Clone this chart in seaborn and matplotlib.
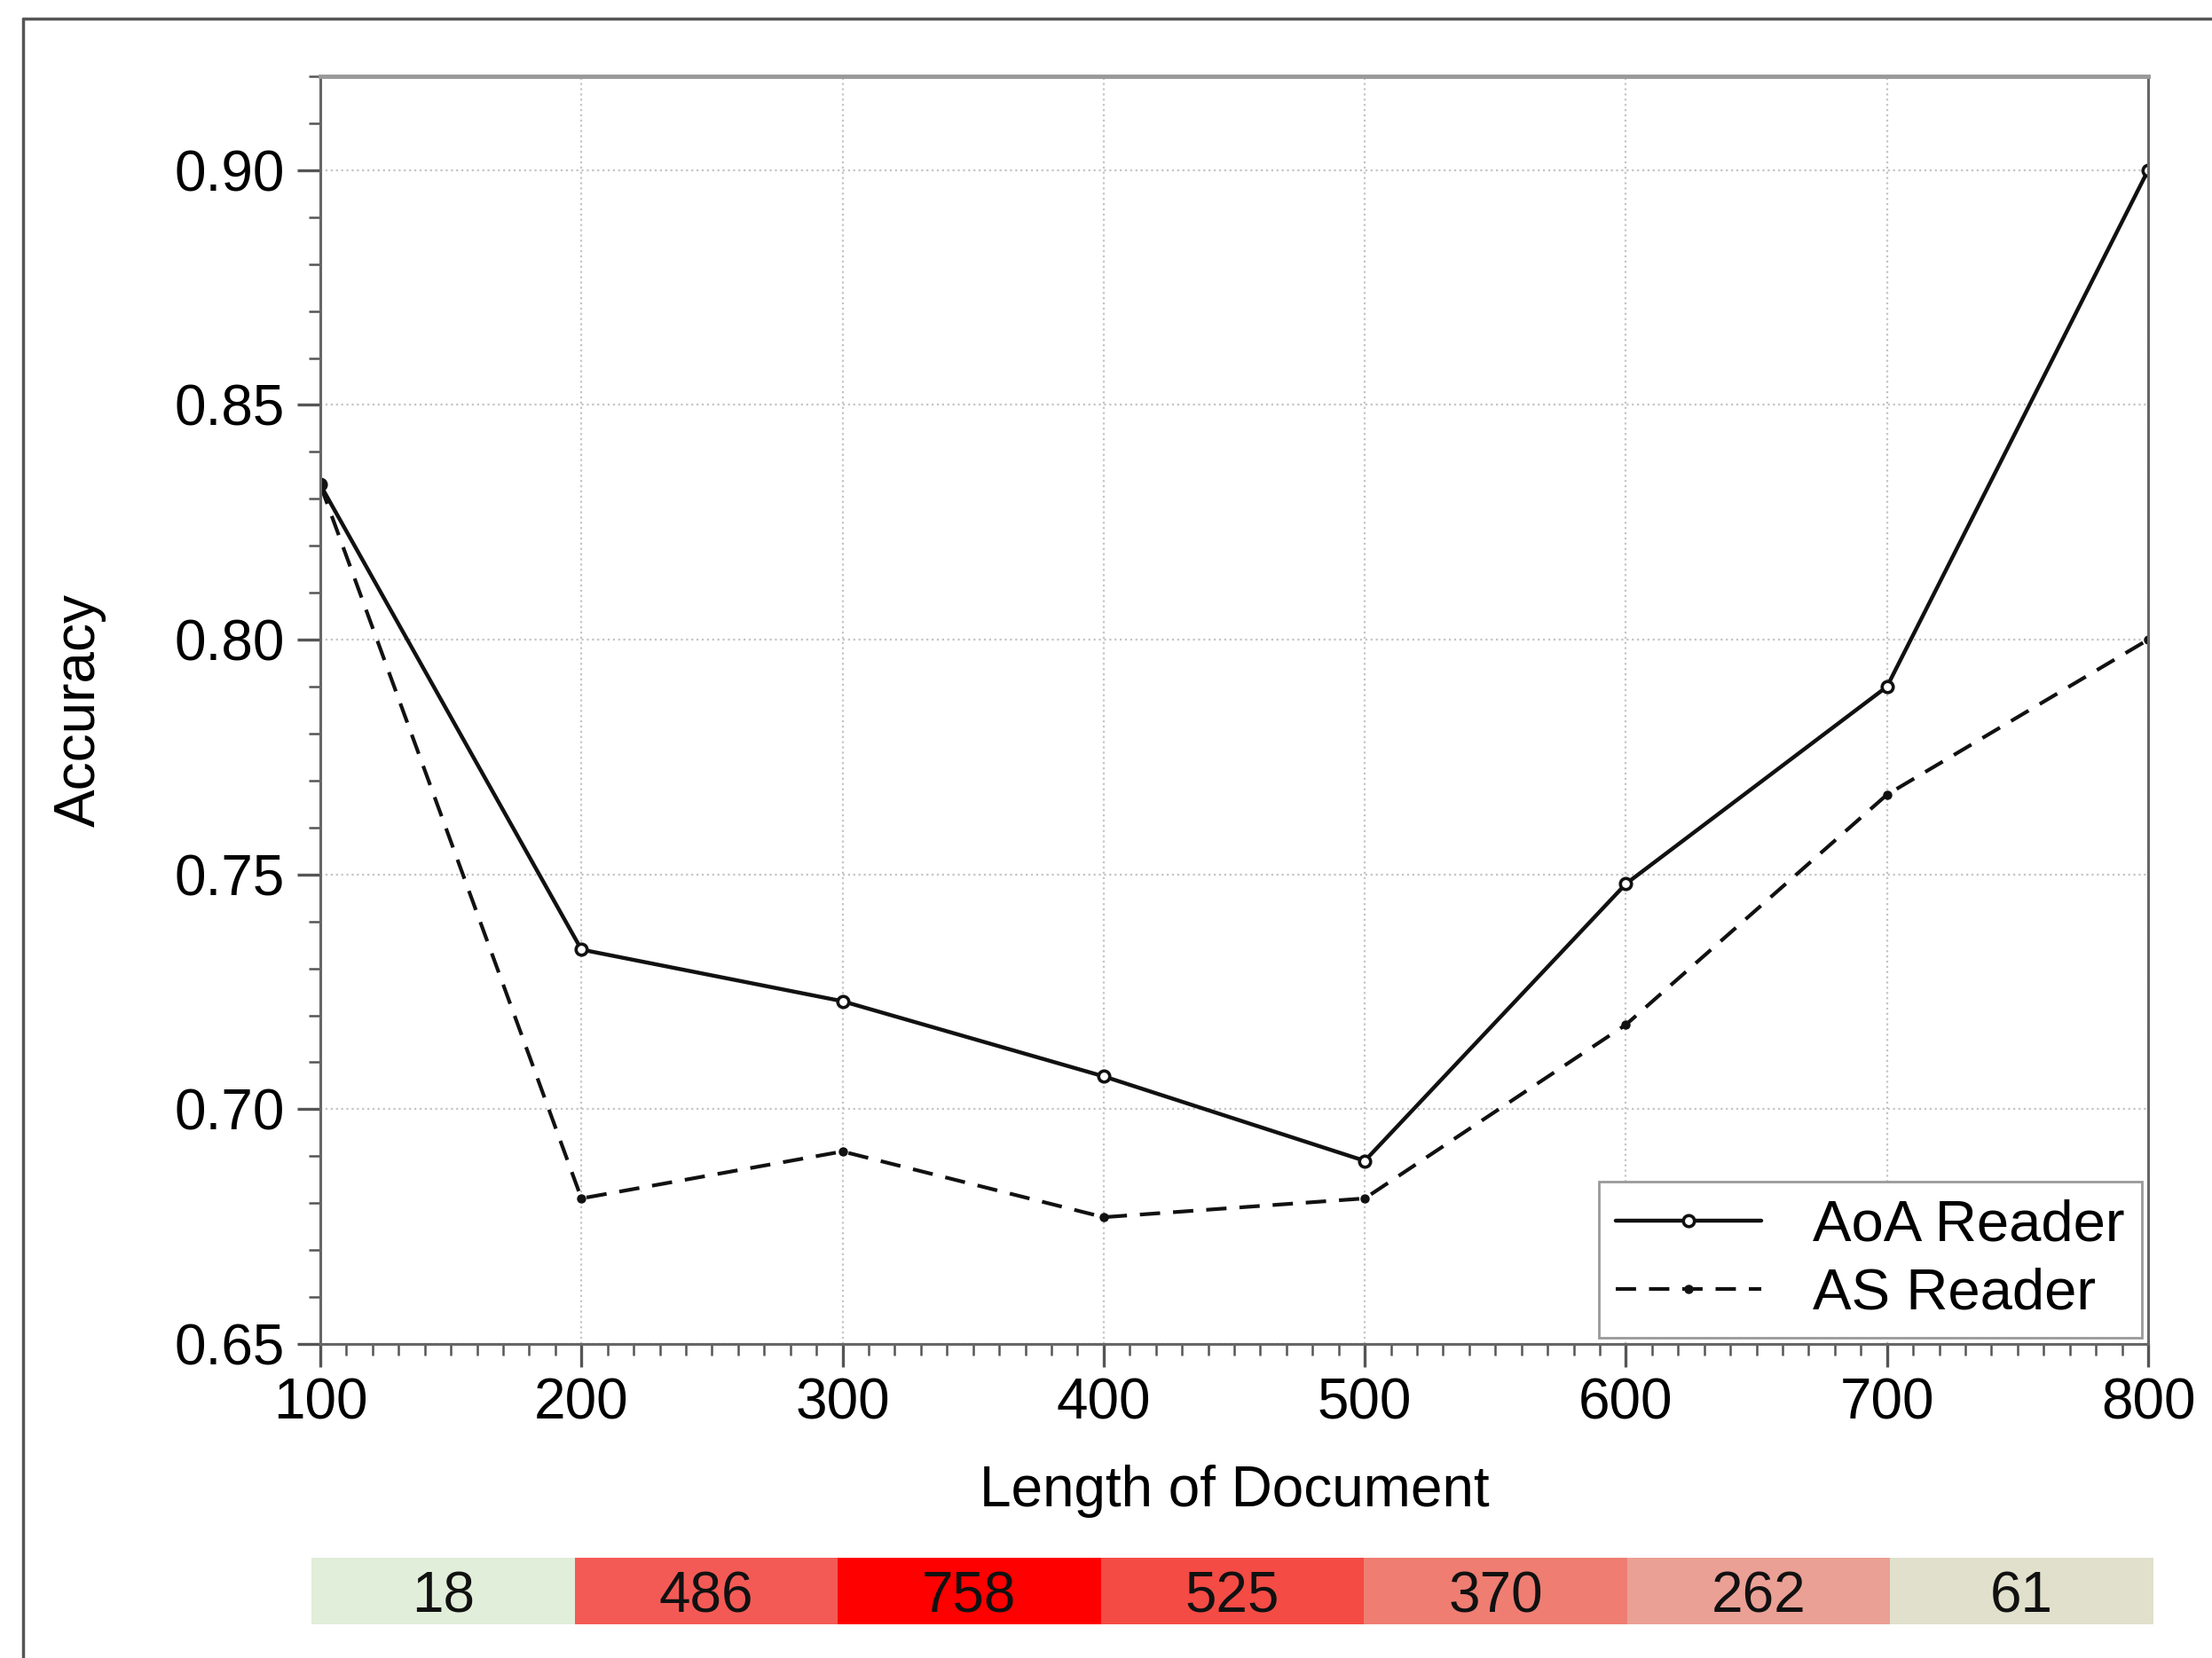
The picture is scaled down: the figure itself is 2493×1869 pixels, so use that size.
import numpy as np
import matplotlib
matplotlib.use("Agg")
import matplotlib.pyplot as plt
import seaborn as sns
from matplotlib.colors import LinearSegmentedColormap
from matplotlib.lines import Line2D
from matplotlib.ticker import MultipleLocator, FormatStrFormatter

# 데이터
doc_length = [100, 200, 300, 400, 500, 600, 700, 800]
aoa_acc = [0.833, 0.734, 0.723, 0.707, 0.689, 0.748, 0.790, 0.900]
as_acc = [0.833, 0.681, 0.691, 0.677, 0.681, 0.718, 0.767, 0.800]
bin_counts = [18, 486, 758, 525, 370, 262, 61]

# 개수별 셀 색 (적은 값 -> 연녹색, 많은 값 -> 빨강)
cmap_values = [18, 61, 262, 370, 486, 525, 758]
cmap_colors = ["#e1eed9", "#e0dfcb", "#eba095", "#ef7d72", "#f45a55", "#f44b45", "#ff0000"]

sns.set_theme(style="white")
plt.rcParams["font.family"] = ["Liberation Sans", "DejaVu Sans"]
plt.rcParams["text.color"] = "black"
plt.rcParams["axes.labelcolor"] = "black"
plt.rcParams["xtick.color"] = "black"
plt.rcParams["ytick.color"] = "black"

W, H = 2493, 1869
fig = plt.figure(figsize=(W / 100, H / 100), dpi=100)

# 바깥 테두리
fig.add_artist(Line2D([26 / W, 26 / W], [0, 1 - 21 / H], color="#555555", lw=2.5, transform=fig.transFigure))
fig.add_artist(Line2D([26 / W, 1], [1 - 21 / H, 1 - 21 / H], color="#555555", lw=2.5, transform=fig.transFigure))

ax = fig.add_axes([361 / W, 1 - 1515 / H, (2421 - 361) / W, (1515 - 86) / H])

sns.lineplot(x=doc_length, y=aoa_acc, ax=ax, color="#111111", lw=3.2, marker="o",
             markersize=9, markerfacecolor="white", markeredgecolor="#111111",
             markeredgewidth=2.6, label="AoA Reader")
sns.lineplot(x=doc_length, y=as_acc, ax=ax, color="#111111", lw=3.0, linestyle=(0, (5.5, 3.5)),
             marker="o", markersize=6.5, markerfacecolor="#111111", markeredgecolor="#111111",
             markeredgewidth=1, label="AS Reader")

ax.set_xlim(100, 800)
ax.set_ylim(0.65, 0.92)
ax.xaxis.set_major_locator(MultipleLocator(100))
ax.xaxis.set_minor_locator(MultipleLocator(10))
ax.yaxis.set_major_locator(MultipleLocator(0.05))
ax.yaxis.set_minor_locator(MultipleLocator(0.01))
ax.yaxis.set_major_formatter(FormatStrFormatter("%.2f"))

ax.set_axisbelow(True)
ax.grid(True, which="major", linestyle=":", color="#c4c4c4", lw=1.6)

ax.tick_params(which="major", direction="out", length=19, width=2.4, color="#555555",
               labelsize=46, labelcolor="black", left=True, bottom=True, top=False, right=False)
ax.tick_params(which="minor", direction="out", length=9.5, width=1.8, color="#555555",
               left=True, bottom=True, top=False, right=False)
ax.tick_params(axis="y", which="major", pad=10)
ax.tick_params(axis="x", which="major", pad=8)

for side in ["left", "bottom", "right"]:
    ax.spines[side].set_color("#666666")
    ax.spines[side].set_linewidth(2.2)
ax.spines["top"].set_color("#999999")
ax.spines["top"].set_linewidth(3.5)

ax.set_xlabel("Length of Document", fontsize=46, color="black")
ax.set_ylabel("Accuracy", fontsize=46, color="black")
ax.xaxis.set_label_coords(0.5, -0.095)
ax.yaxis.set_label_coords(-0.117, 0.5)

leg = ax.legend(loc="lower right", bbox_to_anchor=(1, 0), borderaxespad=0.1, fontsize=47,
                frameon=True, fancybox=False, framealpha=1, edgecolor="#999999",
                handlelength=2.5, handletextpad=0.9, labelspacing=0.26, borderpad=0.3)
leg.get_frame().set_linewidth(2)
for t in leg.get_texts():
    t.set_color("black")

# 아래쪽 문서 개수 막대
pos = [(v - min(cmap_values)) / (max(cmap_values) - min(cmap_values)) for v in cmap_values]
count_cmap = LinearSegmentedColormap.from_list("counts", list(zip(pos, cmap_colors)))

ax_bar = fig.add_axes([351 / W, 1 - 1831 / H, (2427 - 351) / W, (1831 - 1756) / H])
sns.heatmap(np.array([bin_counts]), ax=ax_bar, cmap=count_cmap, vmin=min(cmap_values),
            vmax=max(cmap_values), annot=True, fmt="d", cbar=False,
            xticklabels=False, yticklabels=False,
            annot_kws={"fontsize": 46, "color": "#111111", "va": "center_baseline"})

fig.savefig("out.png", dpi=100)
